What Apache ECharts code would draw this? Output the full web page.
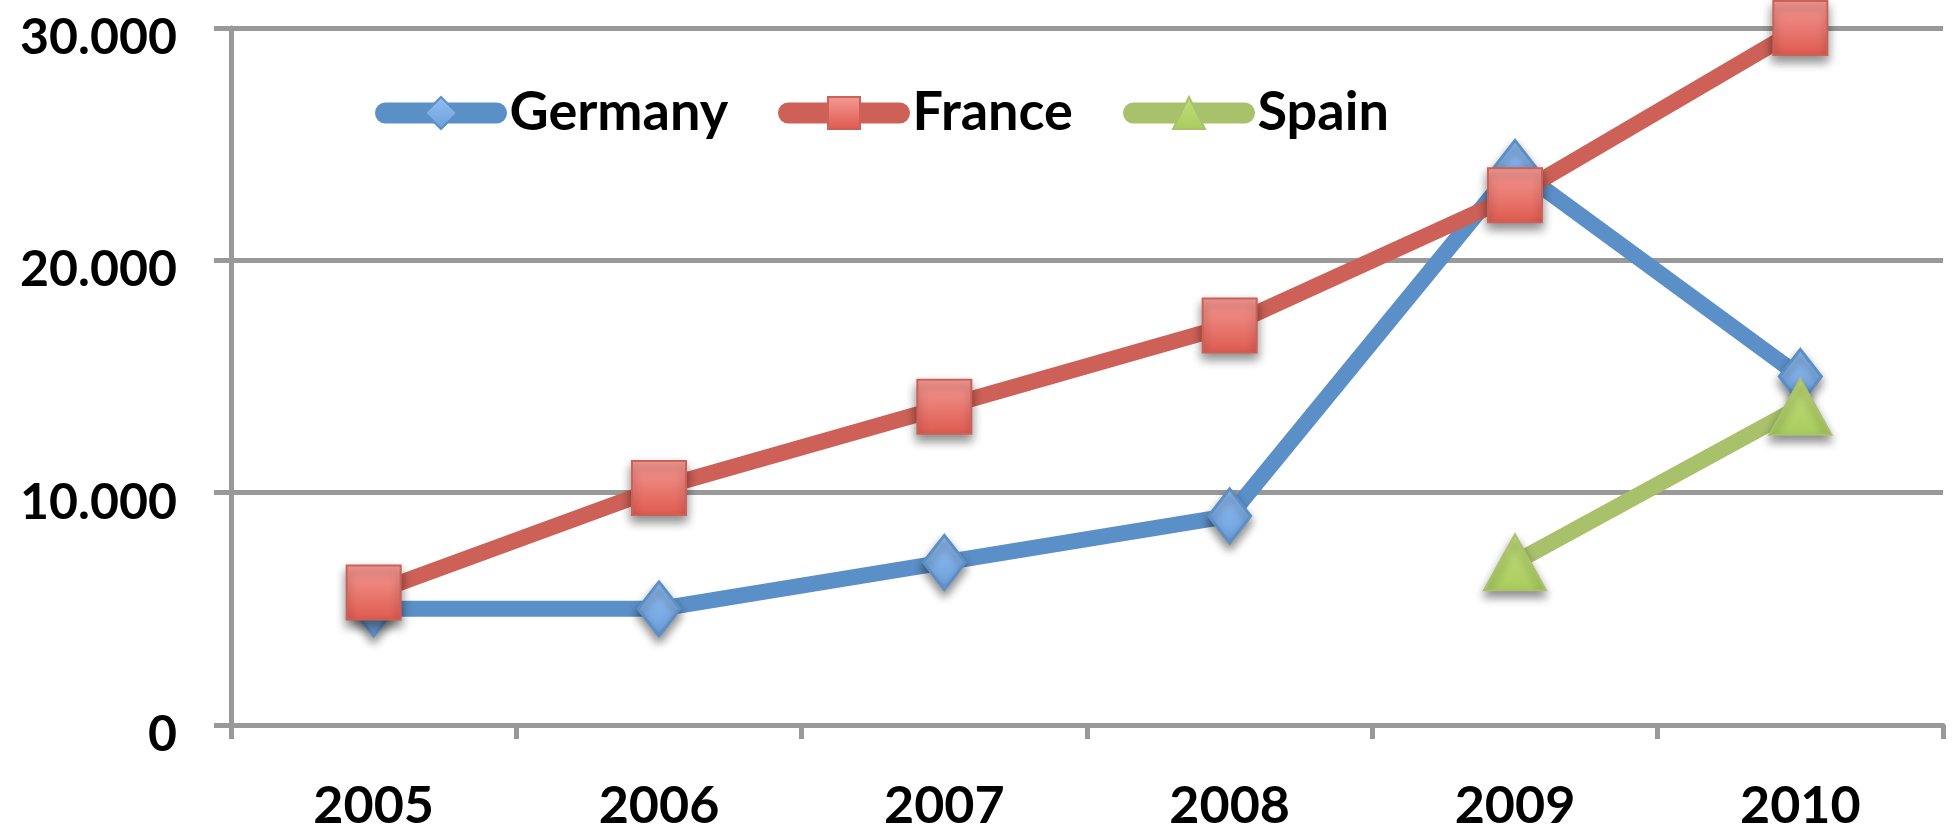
<!DOCTYPE html>
<html>
<head>
<meta charset="utf-8">
<script src="https://cdn.jsdelivr.net/npm/echarts@6/dist/echarts.min.js"></script>
<style>
html,body{margin:0;padding:0;background:#fff;}
#chart{width:1953px;height:825px;}
</style>
</head>
<body>
<div id="chart"></div>
<script>
var categories = ['2005', '2006', '2007', '2008', '2009', '2010'];
var germany = [5000, 5000, 7000, 9000, 24000, 15000];
var france = [5700, 10200, 13700, 17200, 22800, 30000];
var spain = [null, null, null, null, 7000, 13700];
var seriesNames = ['Germany', 'France', 'Spain'];

var FONT = 'Lato';
function grad(top, bottom) {
  return new echarts.graphic.LinearGradient(0, 0, 0, 1, [
    {offset: 0, color: top}, {offset: 1, color: bottom}
  ]);
}
var shadow = {shadowColor: 'rgba(0,0,0,0.45)', shadowBlur: 10, shadowOffsetY: 6};

function legendFor(name, left) {
  return {
    data: [name], left: left, top: 81,
    itemWidth: 111, itemHeight: 40,
    lineStyle: {width: 21, cap: 'round'},
    itemStyle: {shadowBlur: 0, shadowOffsetY: 0, shadowColor: 'transparent'},
    textStyle: {fontFamily: FONT, fontWeight: 'bold', fontSize: 54, color: '#000', padding: [0, 0, 0, 8]}
  };
}

var chart = echarts.init(document.getElementById('chart'), null, {renderer: 'canvas'});
chart.setOption({
  animation: false,
  backgroundColor: '#ffffff',
  grid: {left: 231, right: 10, top: 28, bottom: 100, containLabel: false, outerBoundsMode: 'none'},
  legend: [
    legendFor(seriesNames[0], 370),
    legendFor(seriesNames[1], 773),
    legendFor(seriesNames[2], 1118)
  ],
  xAxis: {
    type: 'category',
    data: categories,
    boundaryGap: true,
    axisLine: {lineStyle: {color: '#999999', width: 5}},
    axisTick: {show: true, inside: false, length: 14, lineStyle: {color: '#999999', width: 5}},
    axisLabel: {fontFamily: FONT, fontWeight: 'bold', fontSize: 52, color: '#000', margin: 55},
    splitLine: {show: false}
  },
  yAxis: {
    type: 'value',
    min: 0, max: 30000, interval: 10000,
    axisLine: {show: true, lineStyle: {color: '#999999', width: 5}},
    axisTick: {show: true, inside: false, length: 17, lineStyle: {color: '#999999', width: 5}},
    axisLabel: {
      margin: 54,
      formatter: function (v) { return '{v|' + (v === 0 ? '0' : String(v).replace(/\B(?=(\d{3})+(?!\d))/g, '.')) + '}'; },
      rich: {v: {fontFamily: FONT, fontWeight: 'bold', fontSize: 50, color: '#000', padding: [20, 0, 0, 0]}}
    },
    splitLine: {show: true, lineStyle: {color: '#999999', width: 5}}
  },
  series: [
    {
      name: seriesNames[0], type: 'line', data: germany,
      symbol: 'diamond', symbolSize: [42, 54],
      lineStyle: {color: '#5B8FC7', width: 16, cap: 'round', join: 'round'},
      itemStyle: Object.assign({color: grad('#93BFF3', '#6C9FDB'), borderColor: '#5B8FC7', borderWidth: 3}, shadow),
      z: 2
    },
    {
      name: seriesNames[1], type: 'line', data: france,
      symbol: 'rect', symbolSize: 54,
      lineStyle: {color: '#CD6157', width: 16, cap: 'round', join: 'round'},
      itemStyle: Object.assign({color: grad('#F59A94', '#DE5A4F'), borderColor: '#CD6157', borderWidth: 2}, shadow),
      z: 3
    },
    {
      name: seriesNames[2], type: 'line', data: spain,
      symbol: 'triangle', symbolSize: [62, 56],
      connectNulls: false,
      lineStyle: {color: '#A8C16A', width: 16, cap: 'round', join: 'round'},
      itemStyle: Object.assign({color: grad('#C2DE7C', '#A9CC5E'), borderColor: '#A8C16A', borderWidth: 2}, shadow),
      z: 4
    }
  ]
});
</script>
</body>
</html>
